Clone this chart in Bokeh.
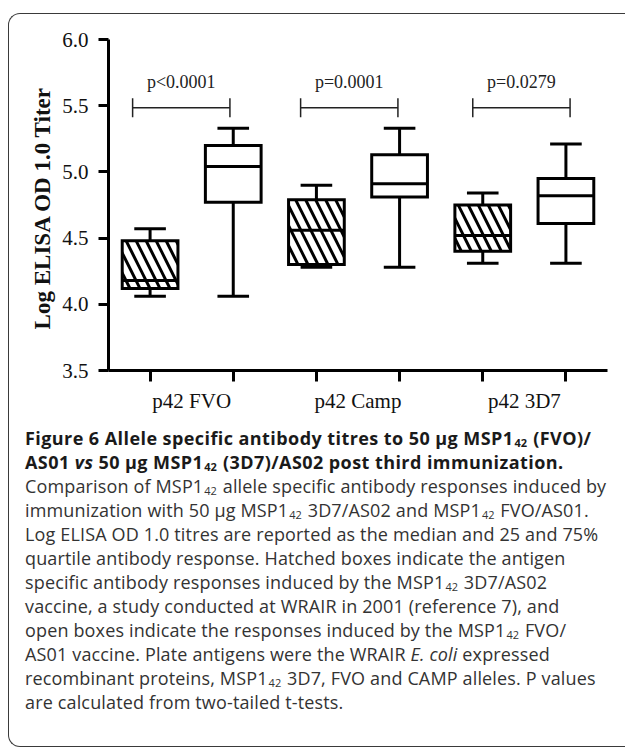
from bokeh.plotting import figure
from bokeh.models import Range1d, FixedTicker, PrintfTickFormatter, Div, ColumnDataSource
from bokeh.layouts import column
from bokeh.core.properties import value
from bokeh.embed import file_html
from bokeh.resources import INLINE

# ---------------- data ----------------
categories = ["p42 FVO", "p42 Camp", "p42 3D7"]

# hatched boxes: MSP1-42 3D7/AS02
hat_lo = [4.06, 4.28, 4.31]
hat_q1 = [4.12, 4.30, 4.40]
hat_med = [4.18, 4.56, 4.52]
hat_q3 = [4.48, 4.79, 4.75]
hat_hi = [4.57, 4.90, 4.84]

# open boxes: MSP1-42 FVO/AS01
opn_lo = [4.06, 4.28, 4.31]
opn_q1 = [4.77, 4.81, 4.61]
opn_med = [5.04, 4.91, 4.82]
opn_q3 = [5.20, 5.13, 4.95]
opn_hi = [5.33, 5.33, 5.21]

p_labels = ["p<0.0001", "p=0.0001", "p=0.0279"]
bracket_y = [5.485, 5.485, 5.485]
bracket_left = [0.79, 2.81, 4.88]
bracket_right = [1.96, 3.98, 6.05]

y_ticks = [3.5, 4.0, 4.5, 5.0, 5.5, 6.0]

# ---------------- figure ----------------
W, H = 617, 426
p = figure(width=W, height=H, output_backend="svg", toolbar_location=None,
           x_range=Range1d(0.5, 6.5), y_range=Range1d(3.5, 6.0),
           min_border_left=108, min_border_right=10, min_border_top=39, min_border_bottom=56)
p.border_fill_color = None
p.outline_line_color = None
p.grid.visible = False

pos_hat = [2 * i + 1 for i in range(len(categories))]
pos_opn = [2 * i + 2 for i in range(len(categories))]
centers = [2 * i + 1.5 for i in range(len(categories))]

BW = 0.335  # half box width
CW = 0.19   # half cap width
LW = 3

def draw_boxes(pos, lo, q1, med, q3, hi, hatched):
    src = ColumnDataSource(dict(
        x=pos, l=[x - BW for x in pos], r=[x + BW for x in pos],
        cl=[x - CW for x in pos], cr=[x + CW for x in pos],
        lo=lo, q1=q1, med=med, q3=q3, hi=hi))
    p.segment(x0="x", y0="q3", x1="x", y1="hi", source=src, line_color="black", line_width=LW)
    p.segment(x0="x", y0="q1", x1="x", y1="lo", source=src, line_color="black", line_width=LW)
    p.segment(x0="cl", y0="hi", x1="cr", y1="hi", source=src, line_color="black", line_width=LW)
    p.segment(x0="cl", y0="lo", x1="cr", y1="lo", source=src, line_color="black", line_width=LW)
    kw = dict(fill_color="white", line_color="black", line_width=LW, line_join="miter")
    if hatched:
        kw.update(hatch_pattern="\\", hatch_color="black", hatch_weight=3, hatch_scale=20)
    p.quad(left="l", right="r", bottom="q1", top="q3", source=src, **kw)
    p.segment(x0="l", y0="med", x1="r", y1="med", source=src, line_color="black", line_width=LW)

draw_boxes(pos_hat, hat_lo, hat_q1, hat_med, hat_q3, hat_hi, True)
draw_boxes(pos_opn, opn_lo, opn_q1, opn_med, opn_q3, opn_hi, False)

# significance brackets
TK = 0.072
bsrc = ColumnDataSource(dict(
    l=bracket_left, r=bracket_right, y=bracket_y,
    y0=[y - TK for y in bracket_y], y1=[y + TK for y in bracket_y],
    c=[(a + b) / 2 for a, b in zip(bracket_left, bracket_right)], t=p_labels))
p.segment(x0="l", y0="y", x1="r", y1="y", source=bsrc, line_color="#222222", line_width=1.5)
p.segment(x0="l", y0="y0", x1="l", y1="y1", source=bsrc, line_color="#222222", line_width=1.5)
p.segment(x0="r", y0="y0", x1="r", y1="y1", source=bsrc, line_color="#222222", line_width=1.5)
p.text(x="c", y="y", text="t", source=bsrc, y_offset=-26, text_align="center",
       text_baseline="alphabetic", text_font=value("Liberation Serif"),
       text_font_size="18px", text_color="#222222")

# axes
SERIF = "Liberation Serif"
xa = p.xaxis[0]
xa.ticker = FixedTicker(ticks=centers, minor_ticks=[1, 2, 3, 4, 5, 6])
xa.major_label_overrides = {c: lab for c, lab in zip(centers, categories)}
xa.major_tick_out = 0
xa.major_tick_in = 0
xa.minor_tick_out = 11
xa.minor_tick_in = 0
xa.minor_tick_line_width = LW
xa.minor_tick_line_color = "black"
xa.axis_line_width = LW
xa.axis_line_color = "black"
xa.major_label_standoff = 7
xa.major_label_text_font = SERIF
xa.major_label_text_font_size = "21px"
xa.major_label_text_color = "#111111"

ya = p.yaxis[0]
ya.ticker = FixedTicker(ticks=y_ticks, minor_ticks=[])
ya.formatter = PrintfTickFormatter(format="%.1f")
ya.major_tick_out = 10
ya.major_tick_in = 0
ya.minor_tick_out = 0
ya.minor_tick_in = 0
ya.major_tick_line_width = LW
ya.major_tick_line_color = "black"
ya.axis_line_width = LW
ya.axis_line_color = "black"
ya.major_label_standoff = 10
ya.major_label_text_font = SERIF
ya.major_label_text_font_size = "21px"
ya.major_label_text_color = "#111111"
ya.axis_label = "Log ELISA  OD 1.0 Titer"
ya.axis_label_text_font = SERIF
ya.axis_label_text_font_style = "bold"
ya.axis_label_text_font_size = "23px"
ya.axis_label_text_color = "#111111"
ya.axis_label_standoff = 4

# ---------------- caption ----------------
SUB = ('<span style="font-size:11px;vertical-align:-2px;line-height:0;'
       'margin:0 1px 0 1px;letter-spacing:0">42</span>')
bold_lines = [
    f"Figure 6 Allele specific antibody titres to 50 µg MSP1{SUB} (FVO)/",
    f"AS01 <i>vs</i> 50 µg MSP1{SUB} (3D7)/AS02 post third immunization.",
]
reg_lines = [
    f"Comparison of MSP1{SUB} allele specific antibody responses induced by",
    f"immunization with 50 µg MSP1{SUB} 3D7/AS02 and MSP1{SUB} FVO/AS01.",
    "Log ELISA OD 1.0 titres are reported as the median and 25 and 75%",
    "quartile antibody response. Hatched boxes indicate the antigen",
    f"specific antibody responses induced by the MSP1{SUB} 3D7/AS02",
    "vaccine, a study conducted at WRAIR in 2001 (reference 7), and",
    f"open boxes indicate the responses induced by the MSP1{SUB} FVO/",
    "AS01 vaccine. Plate antigens were the WRAIR <i>E. coli</i> expressed",
    f"recombinant proteins, MSP1{SUB} 3D7, FVO and CAMP alleles. P values",
    "are calculated from two-tailed t-tests.",
]
frame = ('<div style="position:fixed;left:8px;top:13px;right:-200px;height:734px;'
         'border:1.5px solid #3a3a3a;border-right:none;border-radius:12px;'
         'pointer-events:none;max-width:none;"></div>')
html = (frame
        + '<div style="font-family:\'Open Sans\';font-size:18px;line-height:24px;'
        'white-space:nowrap;color:#333333;letter-spacing:0.15px;">'
        + "".join(f'<div style="font-weight:bold;color:#1a1a1a;letter-spacing:0.43px">{l}</div>'
                  for l in bold_lines)
        + "".join(f"<div>{l}</div>" for l in reg_lines)
        + "</div>")
cap = Div(text=html, width=W, height=318, margin=0,
          styles={"padding-left": "25px", "box-sizing": "border-box"})

layout = column(p, cap, spacing=0)

open("out.html", "w").write(file_html(layout, INLINE))
